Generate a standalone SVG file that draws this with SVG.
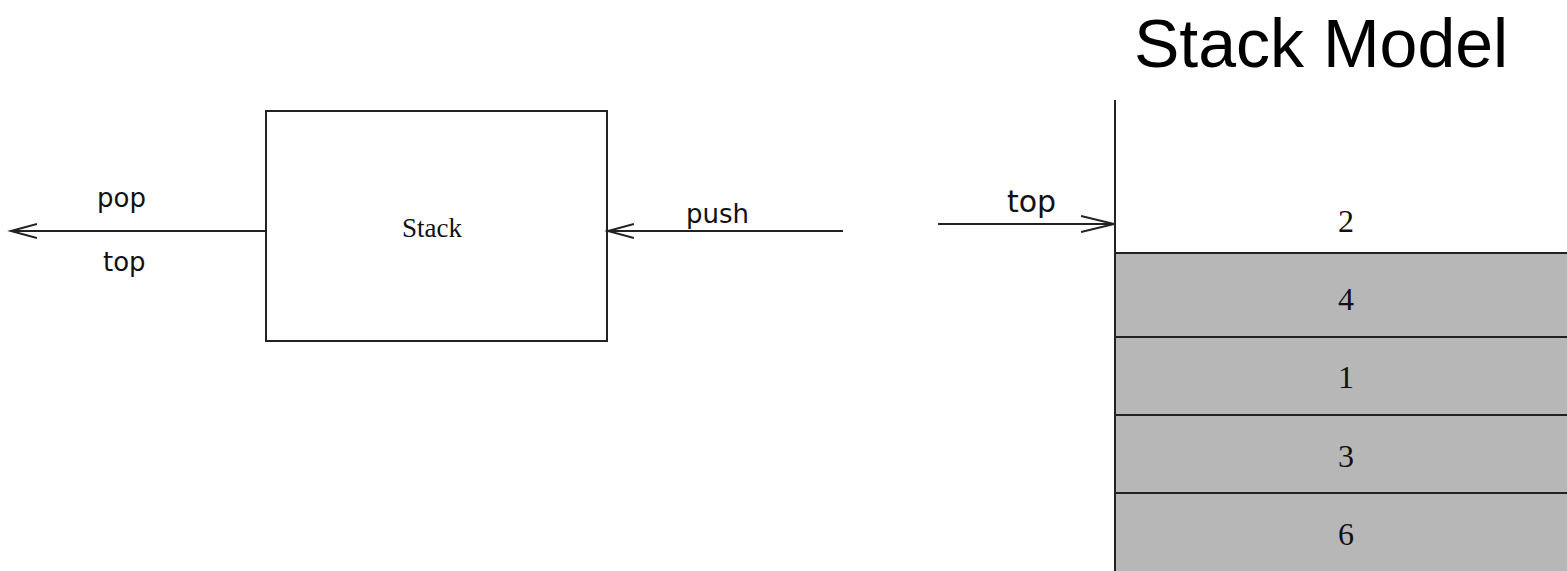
<svg xmlns="http://www.w3.org/2000/svg" width="1567" height="571" viewBox="0 0 1567 571">
<style>
.ln{stroke:#222;stroke-width:2;fill:none}
.lbl{font-family:"DejaVu Sans",sans-serif;fill:#111}
.ser{font-family:"Liberation Serif",serif;fill:#111;text-anchor:middle}
.cell{fill:#b7b7b7;stroke:#222;stroke-width:2}
</style>
<defs>
<marker id="open" markerWidth="30" markerHeight="20" refX="26" refY="8" orient="auto" markerUnits="userSpaceOnUse">
<path d="M0,1 L26,8 L0,15" fill="none" stroke="#222" stroke-width="2"/>
</marker>
<marker id="openL" markerWidth="36" markerHeight="20" refX="33" refY="9" orient="auto" markerUnits="userSpaceOnUse">
<path d="M0,1 L33,9 L0,17" fill="none" stroke="#222" stroke-width="2"/>
</marker>
</defs>
<rect width="1567" height="571" fill="#fff"/>
<text x="1134" y="67" font-family="Liberation Sans, Arial, sans-serif" font-size="68" fill="#000">Stack Model</text>
<g id="stack-box">
<rect x="266" y="111" width="341" height="230" fill="#fff" stroke="#222" stroke-width="2"/>
<text class="ser" x="432" y="237" font-size="27">Stack</text>
</g>
<g id="stack-model">
<rect class="cell" x="1115" y="253" width="460" height="84"/>
<rect class="cell" x="1115" y="337" width="460" height="78"/>
<rect class="cell" x="1115" y="415" width="460" height="78"/>
<rect class="cell" x="1115" y="493" width="460" height="90"/>
<line class="ln" x1="1115" y1="100" x2="1115" y2="571"/>
<text class="ser" x="1346" y="232" font-size="32">2</text>
<text class="ser" x="1346" y="310" font-size="32">4</text>
<text class="ser" x="1346" y="388" font-size="32">1</text>
<text class="ser" x="1346" y="467" font-size="32">3</text>
<text class="ser" x="1346" y="545" font-size="32">6</text>
</g>
<g id="connectors">
<line class="ln" x1="266" y1="231" x2="11" y2="231" marker-end="url(#open)"/>
<line class="ln" x1="843" y1="231" x2="608" y2="231" marker-end="url(#open)"/>
<line class="ln" x1="938" y1="224" x2="1114" y2="224" marker-end="url(#openL)"/>
<text class="lbl" x="97" y="207" font-size="26">pop</text>
<text class="lbl" x="103" y="271" font-size="26">top</text>
<text class="lbl" x="686" y="223" font-size="26">push</text>
<text class="lbl" x="1007" y="212" font-size="30">top</text>
</g>
</svg>
